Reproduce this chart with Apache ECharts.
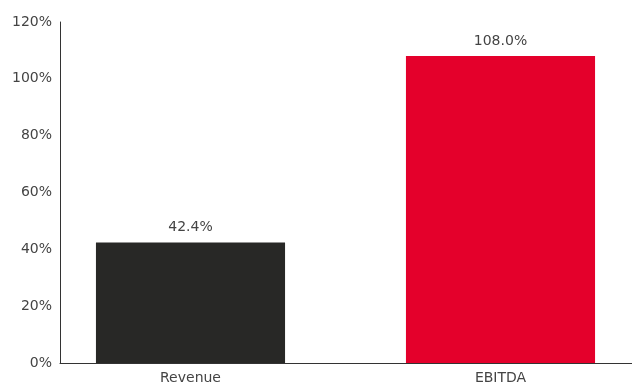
<!DOCTYPE html>
<html>
<head>
<meta charset="utf-8">
<style>
  html, body { margin: 0; padding: 0; background: #ffffff; }
  #chart { width: 632px; height: 385px; }
</style>
<script src="https://cdn.jsdelivr.net/npm/echarts@6/dist/echarts.min.js"></script>
</head>
<body>
<div id="chart"></div>
<script>
// Growth figures per metric
const categories = ['Revenue', 'EBITDA'];
const growthValues = [42.4, 108.0];
const barColors = ['#282826', '#e4002b'];
const yTicks = [0, 20, 40, 60, 80, 100, 120];

const FONT = '"DejaVu Sans", sans-serif';
const TEXT = '#444444';
const AXIS = '#333333';

const chart = echarts.init(document.getElementById('chart'), null, { renderer: 'canvas' });

chart.setOption({
  animation: false,
  grid: [
    // plotting band for the bars (runs past the right edge of the canvas)
    { left: 35.5, top: 22, width: 620, height: 341, outerBoundsMode: 'none', containLabel: false },
    // frame carrying the visible axes
    { left: 60, top: 22, width: 572, height: 341, outerBoundsMode: 'none', containLabel: false }
  ],
  xAxis: [
    {
      type: 'category',
      gridIndex: 0,
      data: categories,
      axisLine: { show: false },
      axisTick: { show: false },
      axisLabel: { color: TEXT, fontFamily: FONT, fontSize: 14, margin: 8 }
    },
    {
      type: 'category',
      gridIndex: 1,
      data: categories,
      axisLine: { show: true, lineStyle: { color: AXIS, width: 1 } },
      axisTick: { show: false },
      axisLabel: { show: false }
    }
  ],
  yAxis: [
    {
      type: 'value',
      gridIndex: 0,
      min: yTicks[0],
      max: yTicks[yTicks.length - 1],
      interval: 20,
      show: false
    },
    {
      type: 'value',
      gridIndex: 1,
      min: yTicks[0],
      max: yTicks[yTicks.length - 1],
      interval: 20,
      axisLine: { show: true, lineStyle: { color: AXIS, width: 1 } },
      axisTick: { show: false },
      splitLine: { show: false },
      axisLabel: {
        color: TEXT, fontFamily: FONT, fontSize: 14, margin: 8,
        padding: [0, 0, 7, 0],
        formatter: v => v + '%'
      }
    }
  ],
  series: [{
    type: 'bar',
    xAxisIndex: 0,
    yAxisIndex: 0,
    barWidth: '61%',
    data: growthValues.map((v, i) => ({ value: v, itemStyle: { color: barColors[i] } })),
    label: {
      show: true,
      position: 'top',
      distance: 8,
      color: TEXT,
      fontFamily: FONT,
      fontSize: 14,
      formatter: p => p.value.toFixed(1) + '%'
    }
  }]
});
</script>
</body>
</html>
